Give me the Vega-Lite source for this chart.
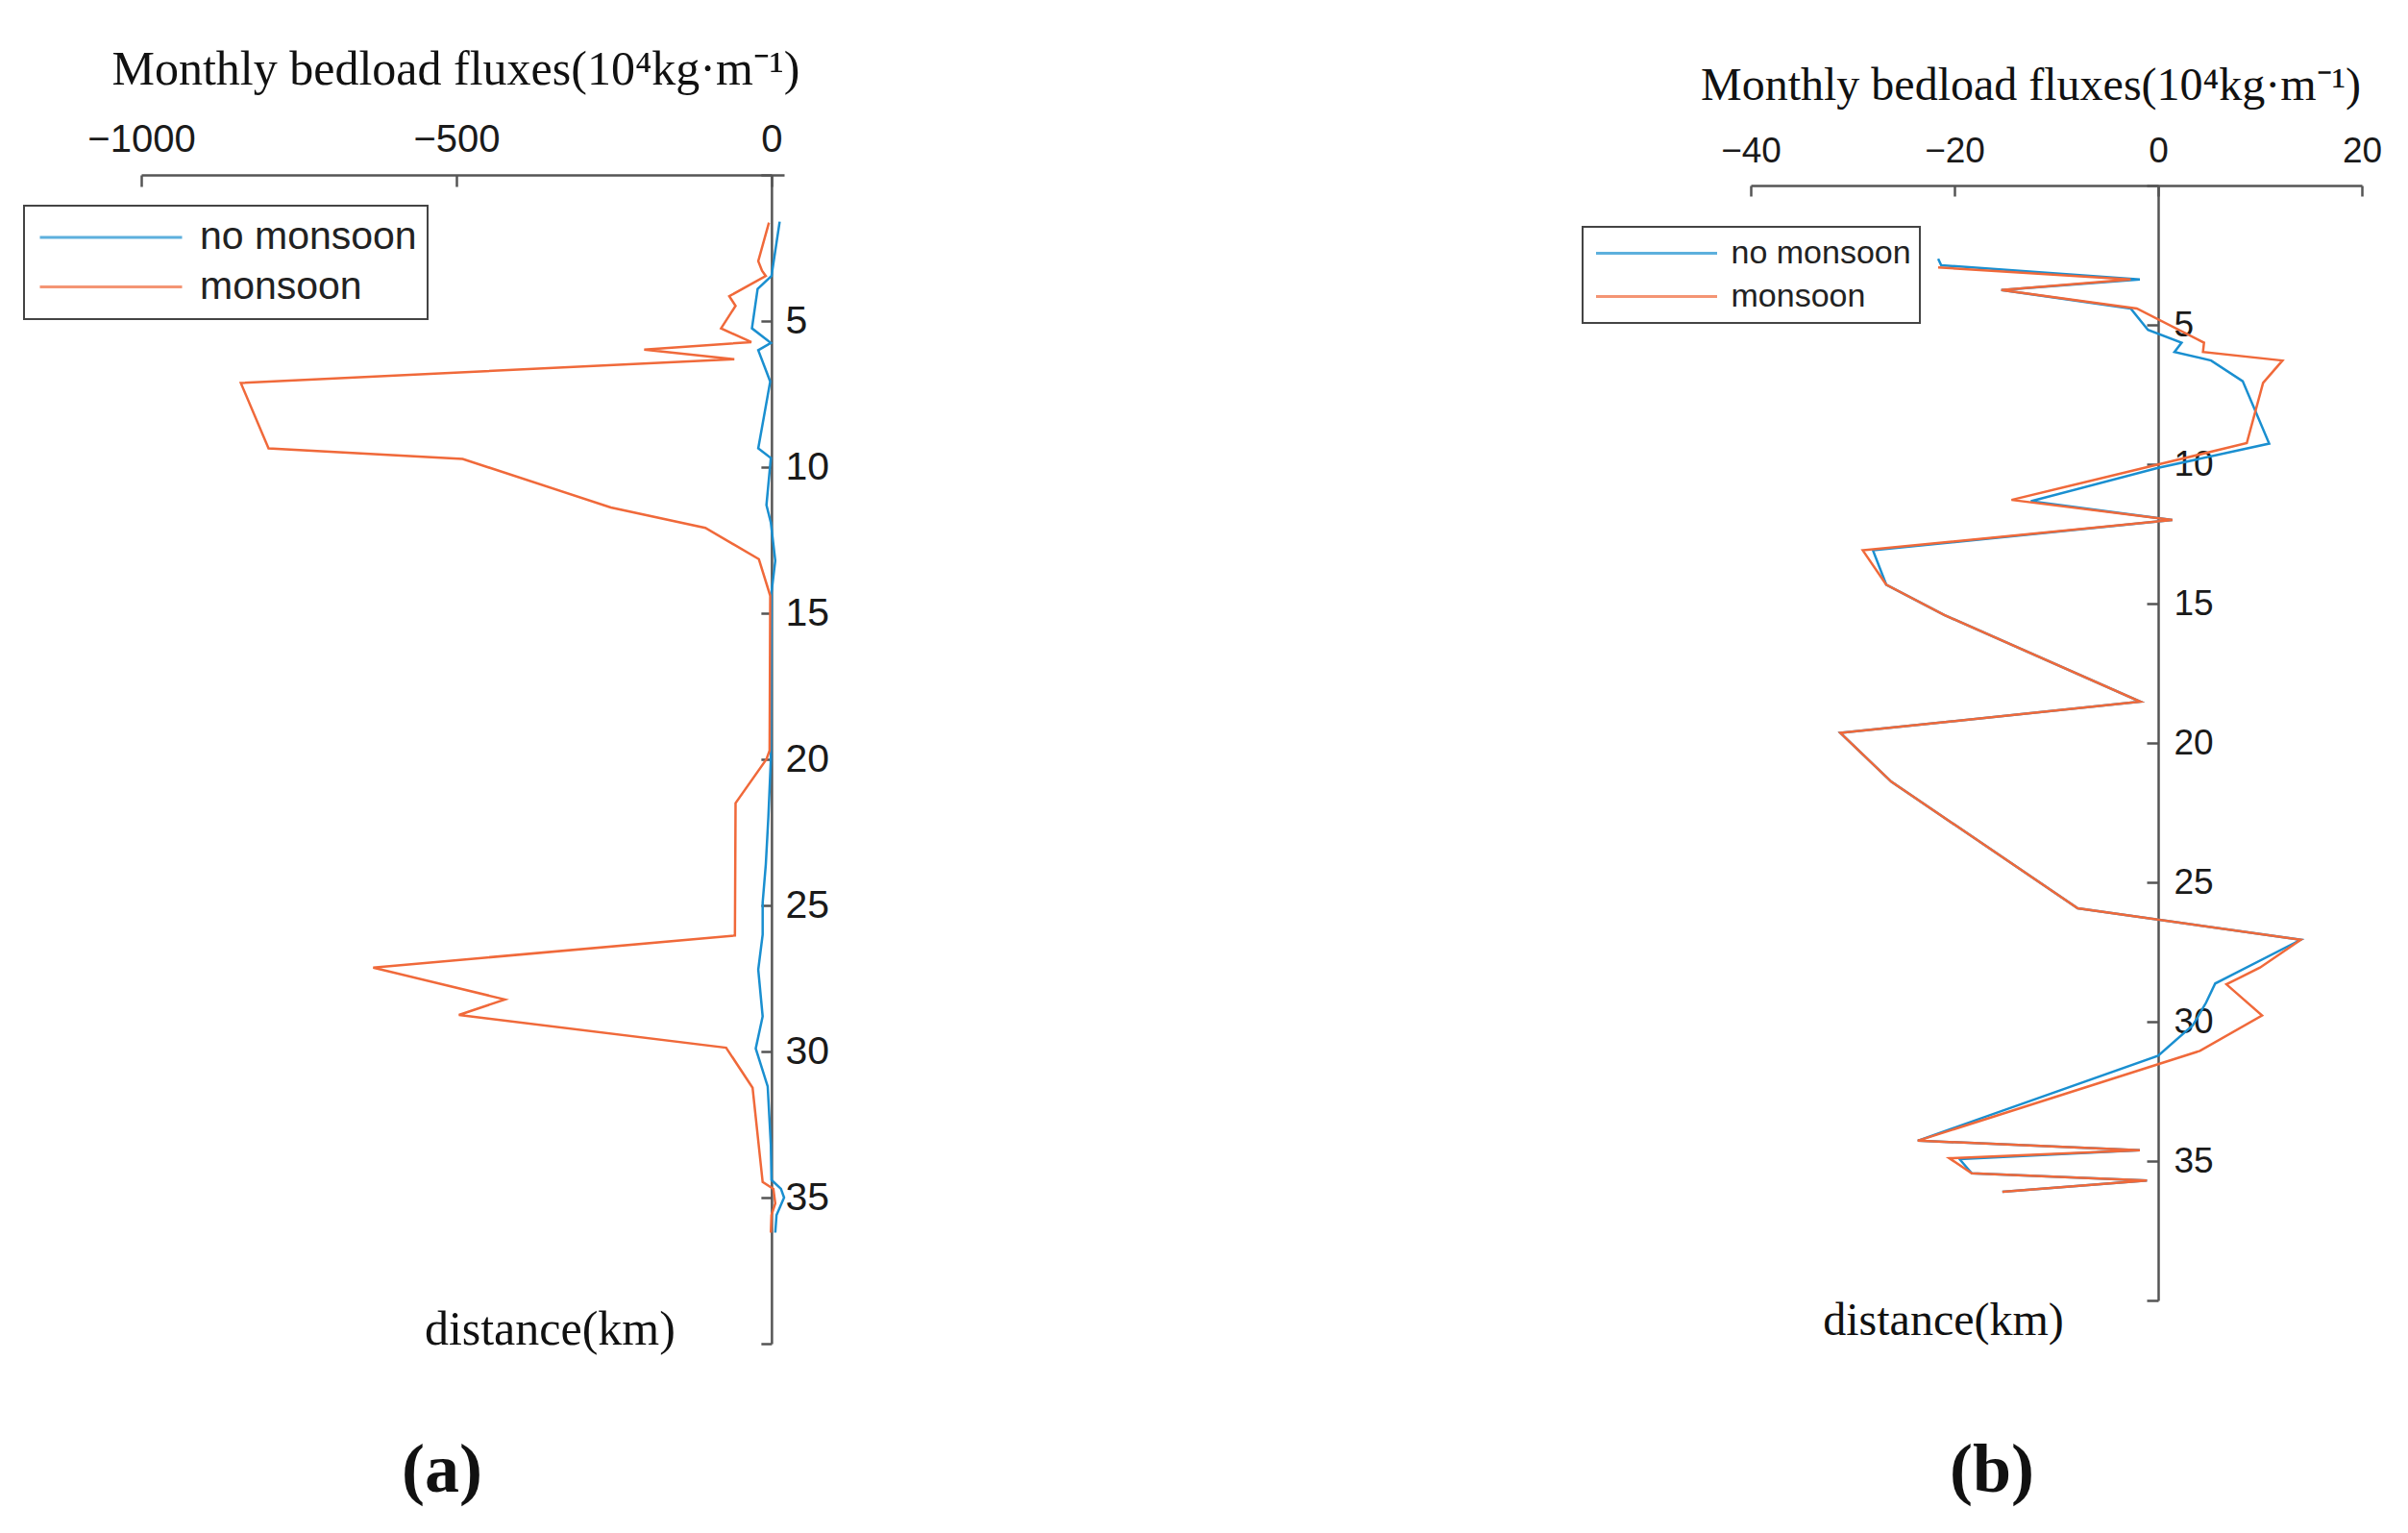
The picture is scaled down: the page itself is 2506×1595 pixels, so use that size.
{
  "$schema": "https://vega.github.io/schema/vega-lite/v6.json",
  "autosize": {"type": "none"},
  "padding": {"left": 147, "top": 182, "right": 2359, "bottom": 1413},
  "background": "white",
  "datasets": {
    "a": [
      {"series": "no monsoon", "dist": 1.6, "flux": 13},
      {"series": "no monsoon", "dist": 3.46, "flux": 0},
      {"series": "no monsoon", "dist": 3.9, "flux": -22},
      {"series": "no monsoon", "dist": 5.25, "flux": -31},
      {"series": "no monsoon", "dist": 5.75, "flux": -1},
      {"series": "no monsoon", "dist": 6.0, "flux": -21},
      {"series": "no monsoon", "dist": 7.07, "flux": -2},
      {"series": "no monsoon", "dist": 9.36, "flux": -21},
      {"series": "no monsoon", "dist": 9.69, "flux": -1},
      {"series": "no monsoon", "dist": 11.3, "flux": -8},
      {"series": "no monsoon", "dist": 11.9, "flux": -1},
      {"series": "no monsoon", "dist": 13.2, "flux": 6},
      {"series": "no monsoon", "dist": 14.3, "flux": 0},
      {"series": "no monsoon", "dist": 20.0, "flux": -1},
      {"series": "no monsoon", "dist": 22.0, "flux": -5},
      {"series": "no monsoon", "dist": 23.6, "flux": -9},
      {"series": "no monsoon", "dist": 24.9, "flux": -14},
      {"series": "no monsoon", "dist": 26.0, "flux": -14},
      {"series": "no monsoon", "dist": 27.2, "flux": -21},
      {"series": "no monsoon", "dist": 28.8, "flux": -14},
      {"series": "no monsoon", "dist": 29.9, "flux": -25},
      {"series": "no monsoon", "dist": 31.2, "flux": -6},
      {"series": "no monsoon", "dist": 33.2, "flux": -1},
      {"series": "no monsoon", "dist": 34.4, "flux": 0},
      {"series": "no monsoon", "dist": 34.7, "flux": 15},
      {"series": "no monsoon", "dist": 35.0, "flux": 20},
      {"series": "no monsoon", "dist": 35.6, "flux": 8},
      {"series": "no monsoon", "dist": 36.2, "flux": 6},
      {"series": "monsoon", "dist": 1.63, "flux": -4},
      {"series": "monsoon", "dist": 2.95, "flux": -21},
      {"series": "monsoon", "dist": 3.28, "flux": -15},
      {"series": "monsoon", "dist": 3.46, "flux": -9},
      {"series": "monsoon", "dist": 4.15, "flux": -67},
      {"series": "monsoon", "dist": 4.48, "flux": -57},
      {"series": "monsoon", "dist": 5.25, "flux": -80},
      {"series": "monsoon", "dist": 5.72, "flux": -32},
      {"series": "monsoon", "dist": 5.98, "flux": -202},
      {"series": "monsoon", "dist": 6.31, "flux": -59},
      {"series": "monsoon", "dist": 7.12, "flux": -842},
      {"series": "monsoon", "dist": 9.36, "flux": -798},
      {"series": "monsoon", "dist": 9.72, "flux": -490},
      {"series": "monsoon", "dist": 11.38, "flux": -255},
      {"series": "monsoon", "dist": 12.08, "flux": -105},
      {"series": "monsoon", "dist": 13.15, "flux": -20},
      {"series": "monsoon", "dist": 14.4, "flux": -2},
      {"series": "monsoon", "dist": 19.7, "flux": -3},
      {"series": "monsoon", "dist": 20.0, "flux": -8},
      {"series": "monsoon", "dist": 21.5, "flux": -57},
      {"series": "monsoon", "dist": 26.03, "flux": -58},
      {"series": "monsoon", "dist": 27.13, "flux": -632},
      {"series": "monsoon", "dist": 28.22, "flux": -423},
      {"series": "monsoon", "dist": 28.75, "flux": -496},
      {"series": "monsoon", "dist": 29.87, "flux": -72},
      {"series": "monsoon", "dist": 31.24, "flux": -30},
      {"series": "monsoon", "dist": 34.47, "flux": -14},
      {"series": "monsoon", "dist": 34.7, "flux": 3},
      {"series": "monsoon", "dist": 35.2, "flux": 6},
      {"series": "monsoon", "dist": 35.6, "flux": 0},
      {"series": "monsoon", "dist": 36.2, "flux": -1}
    ],
    "b": [
      {"series": "no monsoon", "dist": 2.63, "flux": -21.6},
      {"series": "no monsoon", "dist": 2.86, "flux": -21.3},
      {"series": "no monsoon", "dist": 3.37, "flux": -1.8},
      {"series": "no monsoon", "dist": 3.75, "flux": -15.4},
      {"series": "no monsoon", "dist": 4.41, "flux": -2.7},
      {"series": "no monsoon", "dist": 5.18, "flux": -1.0},
      {"series": "no monsoon", "dist": 5.64, "flux": 2.3},
      {"series": "no monsoon", "dist": 5.97, "flux": 1.6},
      {"series": "no monsoon", "dist": 6.28, "flux": 5.2},
      {"series": "no monsoon", "dist": 7.02, "flux": 8.3},
      {"series": "no monsoon", "dist": 9.26, "flux": 10.9},
      {"series": "no monsoon", "dist": 10.13, "flux": 0},
      {"series": "no monsoon", "dist": 11.33, "flux": -12.5},
      {"series": "no monsoon", "dist": 12.0, "flux": 1.4},
      {"series": "no monsoon", "dist": 13.09, "flux": -28},
      {"series": "no monsoon", "dist": 14.32, "flux": -26.7},
      {"series": "no monsoon", "dist": 15.41, "flux": -21},
      {"series": "no monsoon", "dist": 18.52, "flux": -1.75},
      {"series": "no monsoon", "dist": 19.64, "flux": -31.2},
      {"series": "no monsoon", "dist": 21.39, "flux": -26.2},
      {"series": "no monsoon", "dist": 25.93, "flux": -7.9},
      {"series": "no monsoon", "dist": 27.06, "flux": 14.0},
      {"series": "no monsoon", "dist": 28.63, "flux": 5.6},
      {"series": "no monsoon", "dist": 29.32, "flux": 4.7},
      {"series": "no monsoon", "dist": 30.13, "flux": 3.4},
      {"series": "no monsoon", "dist": 31.22, "flux": 0},
      {"series": "no monsoon", "dist": 34.27, "flux": -23.6},
      {"series": "no monsoon", "dist": 34.61, "flux": -1.8},
      {"series": "no monsoon", "dist": 34.93, "flux": -19.5},
      {"series": "no monsoon", "dist": 35.44, "flux": -18.3},
      {"series": "no monsoon", "dist": 35.7, "flux": -1.1},
      {"series": "no monsoon", "dist": 36.1, "flux": -15.3},
      {"series": "monsoon", "dist": 2.94, "flux": -21.6},
      {"series": "monsoon", "dist": 3.37, "flux": -2.7},
      {"series": "monsoon", "dist": 3.75, "flux": -15.4},
      {"series": "monsoon", "dist": 4.41, "flux": -2.1},
      {"series": "monsoon", "dist": 5.64, "flux": 4.5},
      {"series": "monsoon", "dist": 5.97, "flux": 4.4},
      {"series": "monsoon", "dist": 6.28, "flux": 12.2},
      {"series": "monsoon", "dist": 7.08, "flux": 10.3},
      {"series": "monsoon", "dist": 9.24, "flux": 8.7},
      {"series": "monsoon", "dist": 10.01, "flux": 0},
      {"series": "monsoon", "dist": 11.28, "flux": -14.4},
      {"series": "monsoon", "dist": 12.0, "flux": 1.4},
      {"series": "monsoon", "dist": 13.09, "flux": -29},
      {"series": "monsoon", "dist": 14.32, "flux": -26.7},
      {"series": "monsoon", "dist": 15.41, "flux": -21},
      {"series": "monsoon", "dist": 18.52, "flux": -1.75},
      {"series": "monsoon", "dist": 19.64, "flux": -31.2},
      {"series": "monsoon", "dist": 21.39, "flux": -26.2},
      {"series": "monsoon", "dist": 25.93, "flux": -7.9},
      {"series": "monsoon", "dist": 27.06, "flux": 14.0},
      {"series": "monsoon", "dist": 28.06, "flux": 10.0},
      {"series": "monsoon", "dist": 28.66, "flux": 6.7},
      {"series": "monsoon", "dist": 29.78, "flux": 10.2},
      {"series": "monsoon", "dist": 31.05, "flux": 4.1},
      {"series": "monsoon", "dist": 34.27, "flux": -23.6},
      {"series": "monsoon", "dist": 34.61, "flux": -1.8},
      {"series": "monsoon", "dist": 34.9, "flux": -20.5},
      {"series": "monsoon", "dist": 35.44, "flux": -18.3},
      {"series": "monsoon", "dist": 35.7, "flux": -1.1},
      {"series": "monsoon", "dist": 36.1, "flux": -15.3}
    ]
  },
  "config": {
    "view": {"stroke": null},
    "axis": {
      "grid": false,
      "domainColor": "#555555",
      "domainWidth": 2.5,
      "tickColor": "#555555",
      "tickWidth": 2.5,
      "labelColor": "#1a1a1a",
      "labelFont": "Liberation Sans",
      "titleFont": "Liberation Serif",
      "titleFontWeight": "normal",
      "titleColor": "#111111",
      "labelFlush": false,
      "labelOverlap": false,
      "labelBound": false
    },
    "legend": {"strokeWidth": 2}
  },
  "spacing": 1006,
  "bounds": "flush",
  "resolve": {"scale": {"color": "independent"}, "legend": {"color": "independent"}},
  "hconcat": [
    {
      "width": 669,
      "height": 1216,
      "data": {"name": "a"},
      "title": {"text": "(a)", "orient": "bottom", "frame": "group", "anchor": "middle", "offset": 134, "dx": -21.5, "baseline": "alphabetic", "font": "Liberation Serif", "fontSize": 72, "fontWeight": "bold", "color": "#111111"},
      "mark": {"type": "line", "strokeWidth": 2.5},
      "encoding": {
        "x": {
          "field": "flux", "type": "quantitative",
          "scale": {"domain": [-1000, 20], "nice": false, "zero": false},
          "axis": {
            "orient": "top", "values": [-1000, -500, 0], "format": "d",
            "title": "Monthly bedload fluxes(10⁴kg·m⁻¹)",
            "titleFontSize": 50, "titleX": 327, "titleY": -95, "titleBaseline": "alphabetic", "titleAlign": "center", "titleAngle": 0,
            "labelFontSize": 40, "labelBaseline": "alphabetic", "labelPadding": 37, "tickSize": -12
          }
        },
        "y": {
          "field": "dist", "type": "quantitative",
          "scale": {"domain": [0, 40], "range": [0, 1216], "nice": false, "zero": false},
          "axis": {
            "orient": "right", "offset": -13.12,
            "values": [0, 5, 10, 15, 20, 25, 30, 35, 40],
            "labelExpr": "datum.value == 0 || datum.value == 40 ? '' : datum.label",
            "labelFontSize": 41, "labelPadding": 25, "tickSize": -11, "labelAlign": "left", "labelBaseline": "middle",
            "title": "distance(km)", "titleFontSize": 50, "titleAngle": 0, "titleX": -231, "titleY": 1216, "titleAlign": "center", "titleBaseline": "alphabetic"
          }
        },
        "color": {
          "field": "series", "type": "nominal",
          "scale": {"domain": ["no monsoon", "monsoon"], "range": ["#1a8fd0", "#f0693a"]},
          "legend": {
            "orient": "none", "legendX": -122, "legendY": 32, "title": null,
            "symbolType": "stroke", "symbolSize": 21904, "symbolStrokeWidth": 3, "symbolOpacity": 0.7, "symbolOffset": 4,
            "labelOffset": 17, "labelFontSize": 41, "labelFont": "Liberation Sans", "labelColor": "#222222", "labelLimit": 0,
            "padding": 11, "rowPadding": 7.6, "clipHeight": 44,
            "strokeColor": "#444444", "fillColor": "white", "cornerRadius": 0
          }
        },
        "order": {"field": "dist", "type": "quantitative"}
      }
    },
    {
      "width": 636,
      "height": 1171,
      "data": {"name": "b"},
      "title": {"text": "(b)", "orient": "bottom", "frame": "group", "anchor": "middle", "offset": 154, "dx": -67, "baseline": "alphabetic", "font": "Liberation Serif", "fontSize": 72, "fontWeight": "bold", "color": "#111111"},
      "mark": {"type": "line", "strokeWidth": 2.5},
      "encoding": {
        "x": {
          "field": "flux", "type": "quantitative",
          "scale": {"domain": [-40, 20], "nice": false, "zero": false},
          "axis": {
            "orient": "top", "offset": -11, "values": [-40, -20, 0, 20], "format": "d",
            "title": "Monthly bedload fluxes(10⁴kg·m⁻¹)",
            "titleFontSize": 48, "titleX": 291, "titleY": -90, "titleBaseline": "alphabetic", "titleAlign": "center", "titleAngle": 0,
            "labelFontSize": 37, "labelBaseline": "alphabetic", "labelPadding": 36, "tickSize": -11
          }
        },
        "y": {
          "field": "dist", "type": "quantitative",
          "scale": {"domain": [0, 40], "range": [11, 1171], "nice": false, "zero": false},
          "axis": {
            "orient": "right", "offset": -212,
            "values": [0, 5, 10, 15, 20, 25, 30, 35, 40],
            "labelExpr": "datum.value == 0 || datum.value == 40 ? '' : datum.label",
            "labelFontSize": 37, "labelPadding": 28, "tickSize": -12, "labelAlign": "left", "labelBaseline": "middle",
            "title": "distance(km)", "titleFontSize": 48, "titleAngle": 0, "titleX": -224, "titleY": 1206, "titleAlign": "center", "titleBaseline": "alphabetic"
          }
        },
        "color": {
          "field": "series", "type": "nominal",
          "scale": {"domain": ["no monsoon", "monsoon"], "range": ["#1a8fd0", "#f0693a"]},
          "legend": {
            "orient": "none", "legendX": -175, "legendY": 54, "title": null,
            "symbolType": "stroke", "symbolSize": 15876, "symbolStrokeWidth": 3, "symbolOpacity": 0.7, "symbolOffset": 4,
            "labelOffset": 13, "labelFontSize": 34, "labelFont": "Liberation Sans", "labelColor": "#222222", "labelLimit": 0,
            "padding": 8.5, "rowPadding": 7, "clipHeight": 38,
            "strokeColor": "#444444", "fillColor": "white", "cornerRadius": 0
          }
        },
        "order": {"field": "dist", "type": "quantitative"}
      }
    }
  ]
}
